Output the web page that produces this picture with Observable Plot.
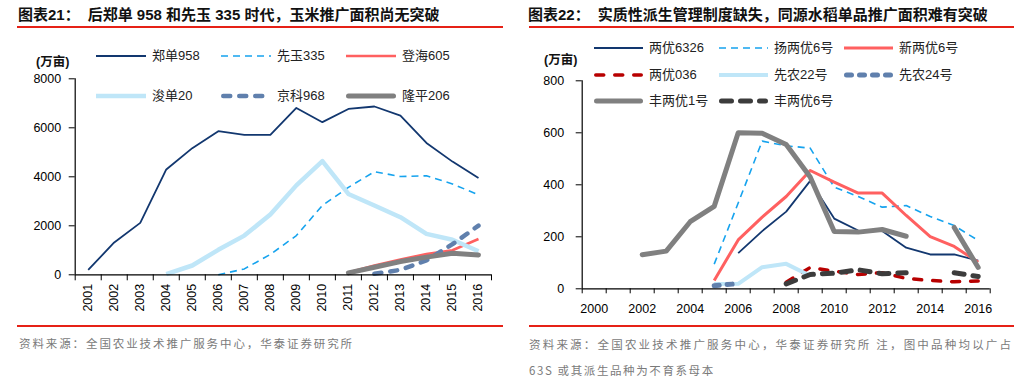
<!DOCTYPE html>
<html><head><meta charset="utf-8">
<script src="https://cdn.jsdelivr.net/npm/d3@7"></script>
<script src="https://cdn.jsdelivr.net/npm/@observablehq/plot@0.6"></script>
<style>
body{margin:0;background:#fff;}
#root{position:relative;width:1028px;height:387px;overflow:hidden;background:#fff;}
.title{position:absolute;top:5px;font-family:"Liberation Sans","Noto Sans CJK SC",sans-serif;font-weight:700;font-size:15px;line-height:20px;color:#111;white-space:nowrap;}
.title .t2{margin-left:8px;}
.rule{position:absolute;height:2px;background:#e62117;}
.src{position:absolute;font-family:"Noto Sans CJK SC",sans-serif;font-size:11.5px;color:#7a7a7a;letter-spacing:2.2px;white-space:nowrap;line-height:14px;}
.unit{position:absolute;font-family:"Liberation Sans","Noto Sans CJK SC",sans-serif;font-weight:700;font-size:12.5px;color:#111;line-height:16px;white-space:nowrap;}
.chart{position:absolute;top:0;}
.leg{position:absolute;height:16px;display:flex;align-items:center;white-space:nowrap;}
.leg span{font-family:"Liberation Sans","Noto Sans CJK SC",sans-serif;font-size:13px;color:#222;margin-left:6px;line-height:16px;}
</style>
</head><body>
<div id="root">
  <div class="title" style="left:18px">图表21：<span class="t2">后郑单 958 和先玉 335 时代，玉米推广面积尚无突破</span></div>
  <div class="title" style="left:528px">图表22：<span class="t2">实质性派生管理制度缺失，同源水稻单品推广面积难有突破</span></div>
  <div class="rule" style="left:17px;width:486px;top:25.5px"></div>
  <div class="rule" style="left:529px;width:485px;top:25.5px"></div>
  <div class="rule" style="left:17px;width:486px;top:325px"></div>
  <div class="rule" style="left:529px;width:485px;top:325px"></div>
  <div class="src" style="left:19px;top:336px;letter-spacing:1.9px">资料来源：全国农业技术推广服务中心，华泰证券研究所</div>
  <div class="src" style="left:529px;top:337px">资料来源：全国农业技术推广服务中心，华泰证券研究所 注，图中品种均以广占</div>
  <div class="src" style="left:529px;top:363px;letter-spacing:1.6px">63S 或其派生品种为不育系母本</div>
  <div class="unit" style="left:36px;top:54px">(万亩)</div>
  <div class="unit" style="left:544px;top:52px">(万亩)</div>
  <div id="left" class="chart" style="left:0"></div>
  <div id="right" class="chart" style="left:514px"></div>
</div>
<script>
// ---------- Left chart data (万亩) ----------
const leftYears = [2001,2002,2003,2004,2005,2006,2007,2008,2009,2010,2011,2012,2013,2014,2015,2016];
const leftYTicks = [0,2000,4000,6000,8000];
const leftNames = ["郑单958","先玉335","登海605","浚单20","京科968","隆平206"];
const zhengdan958 = [200,1320,2120,4300,5170,5860,5710,5710,6810,6230,6770,6870,6500,5380,4620,3950];
const xianyu335   = [null,null,null,null,null,0,240,830,1600,2830,3570,4210,4010,4040,3710,3260];
const denghai605  = [null,null,null,null,null,null,null,null,null,null,90,380,620,850,1000,1460];
const xundan20    = [null,null,null,30,380,1020,1600,2460,3650,4640,3300,2830,2350,1670,1430,960];
const jingke968   = [null,null,null,null,null,null,null,null,null,null,null,40,200,590,1250,2010];
const longping206 = [null,null,null,null,null,null,null,null,null,null,80,310,540,720,880,810];
const leftValues = [zhengdan958,xianyu335,denghai605,xundan20,jingke968,longping206];

// ---------- Right chart data (万亩) ----------
const rightYears = [2000,2001,2002,2003,2004,2005,2006,2007,2008,2009,2010,2011,2012,2013,2014,2015,2016];
const rightYTicks = [0,200,400,600,800];
const rightXLabels = [2000,2002,2004,2006,2008,2010,2012,2014,2016];
const rightNames = ["两优6326","扬两优6号","新两优6号","两优036","先农22号","先农24号","丰两优1号","丰两优6号"];
const liangyou6326  = [null,null,null,null,null,null,137,222,297,415,270,224,222,158,132,132,108];
const yangliangyou6 = [null,null,null,null,null,95,330,568,550,541,391,355,314,320,278,243,186];
const xinliangyou6  = [null,null,null,null,null,32,188,276,355,455,410,368,368,282,201,163,102];
const liangyou036   = [null,null,null,null,null,null,null,null,25,82,68,55,62,40,32,27,30];
const xiannong22    = [null,null,null,null,null,18,19,83,96,50,null,null,null,null,null,null,null];
const xiannong24    = [null,null,null,null,null,12,20,null,null,null,null,null,null,null,null,null,null];
const fengliangyou1 = [null,null,131,145,258,317,600,598,555,430,220,218,228,202,null,236,82];
const fengliangyou6 = [null,null,null,null,null,null,null,null,19,55,60,73,58,62,null,62,47];
const rightValues = [liangyou6326,yangliangyou6,xinliangyou6,liangyou036,xiannong22,xiannong24,fengliangyou1,fengliangyou6];

// ---------- Styles ----------
const leftStyles = [
  {stroke:"#12376f", w:1.8, dash:null, cap:"butt"},
  {stroke:"#16a3ee", w:1.6, dash:"7,5", cap:"butt"},
  {stroke:"#ff6060", w:2.6, dash:null, cap:"butt"},
  {stroke:"#bfe6f8", w:4.5, dash:null, cap:"butt"},
  {stroke:"#6080ad", w:4.5, dash:"7,9", cap:"round"},
  {stroke:"#808080", w:5, dash:null, cap:"round"}
];
const rightStyles = [
  {stroke:"#12376f", w:1.8, dash:null, cap:"butt"},
  {stroke:"#16a3ee", w:1.6, dash:"7,5", cap:"butt"},
  {stroke:"#ff6060", w:3, dash:null, cap:"butt"},
  {stroke:"#b80000", w:3.5, dash:"8,11", cap:"round"},
  {stroke:"#bfe6f8", w:4, dash:null, cap:"butt"},
  {stroke:"#6080ad", w:5, dash:"5,8", cap:"round"},
  {stroke:"#808080", w:5, dash:null, cap:"round"},
  {stroke:"#3c3c3c", w:5, dash:"10,9", cap:"round"}
];

function lineMarks(years, values, styles){
  return values.map((arr, i) => {
    const data = years.map((y, j) => ({year: y, value: arr[j]}));
    const s = styles[i];
    return Plot.line(data, {x:"year", y:"value", stroke:s.stroke, strokeWidth:s.w,
      strokeDasharray:s.dash || undefined, strokeLinecap:s.cap, strokeLinejoin:"round"});
  });
}
function edges(years){
  const e = years.map(y => y - 0.5);
  e.push(years[years.length-1] + 0.5);
  return e;
}
const axisStyle = {fontFamily:"Liberation Sans, Arial, sans-serif", fontSize:"12.5px", color:"#000", background:"transparent", overflow:"visible"};

// ---------- Left chart ----------
const lEdges = edges(leftYears);
const leftPlot = Plot.plot({
  width:514, height:330,
  marginLeft:74.7, marginRight:23, marginTop:78.3, marginBottom:55.7,
  style: axisStyle,
  x:{type:"linear", domain:[lEdges[0], lEdges[lEdges.length-1]]},
  y:{domain:[leftYTicks[0], leftYTicks[leftYTicks.length-1]]},
  marks:[
    ...lineMarks(leftYears, leftValues, leftStyles),
    Plot.ruleX([lEdges[0]], {stroke:"#000", strokeWidth:1.2}),
    Plot.ruleY([leftYTicks[0]], {stroke:"#000", strokeWidth:1.2}),
    Plot.axisY({ticks:leftYTicks, tickSize:6, tickPadding:8, tickFormat:"d", label:null}),
    Plot.axisX({ticks:lEdges, tickSize:6, tickFormat:() => "", label:null}),
    Plot.axisX({ticks:leftYears, tickSize:0, tickPadding:9, tickRotate:-90, tickFormat:"d", label:null})
  ]
});
document.getElementById("left").appendChild(leftPlot);

// ---------- Right chart ----------
const rEdges = edges(rightYears);
const rightPlot = Plot.plot({
  width:514, height:330,
  marginLeft:67.7, marginRight:38.3, marginTop:80.3, marginBottom:41.7,
  style: axisStyle,
  x:{type:"linear", domain:[rEdges[0], rEdges[rEdges.length-1]]},
  y:{domain:[rightYTicks[0], rightYTicks[rightYTicks.length-1]]},
  marks:[
    ...lineMarks(rightYears, rightValues, rightStyles),
    Plot.ruleX([rEdges[0]], {stroke:"#000", strokeWidth:1.2}),
    Plot.ruleY([rightYTicks[0]], {stroke:"#000", strokeWidth:1.2}),
    Plot.axisY({ticks:rightYTicks, tickSize:6, tickPadding:12, tickFormat:"d", label:null}),
    Plot.axisX({ticks:rEdges, tickSize:5, tickFormat:() => "", label:null}),
    Plot.axisX({ticks:rightXLabels, tickSize:0, tickPadding:15, tickFormat:"d", label:null})
  ]
});
document.getElementById("right").appendChild(rightPlot);

// ---------- Legends ----------
const root = document.getElementById("root");
function addLegend(names, styles, x0, y0, dx, dy, sampleW){
  names.forEach((name, i) => {
    const col = i % 3, row = Math.floor(i / 3);
    const s = styles[i];
    const div = document.createElement("div");
    div.className = "leg";
    div.style.left = (x0 + col*dx) + "px";
    div.style.top = (y0 + row*dy - 8) + "px";
    const ns = "http://www.w3.org/2000/svg";
    const svg = document.createElementNS(ns, "svg");
    svg.setAttribute("width", sampleW); svg.setAttribute("height", 12);
    const ln = document.createElementNS(ns, "line");
    const pad = s.cap === "round" ? s.w/2 : 0;
    ln.setAttribute("x1", pad); ln.setAttribute("x2", sampleW - pad);
    ln.setAttribute("y1", 6); ln.setAttribute("y2", 6);
    ln.setAttribute("stroke", s.stroke); ln.setAttribute("stroke-width", s.w);
    ln.setAttribute("stroke-linecap", s.cap);
    if (s.dash) ln.setAttribute("stroke-dasharray", s.dash);
    svg.appendChild(ln);
    div.appendChild(svg);
    const sp = document.createElement("span");
    sp.textContent = name;
    div.appendChild(sp);
    root.appendChild(div);
  });
}
addLegend(leftNames, leftStyles, 96, 56, 125, 40, 50);
addLegend(rightNames, rightStyles, 594, 48, 125, 26.5, 49);
</script>
</body></html>
